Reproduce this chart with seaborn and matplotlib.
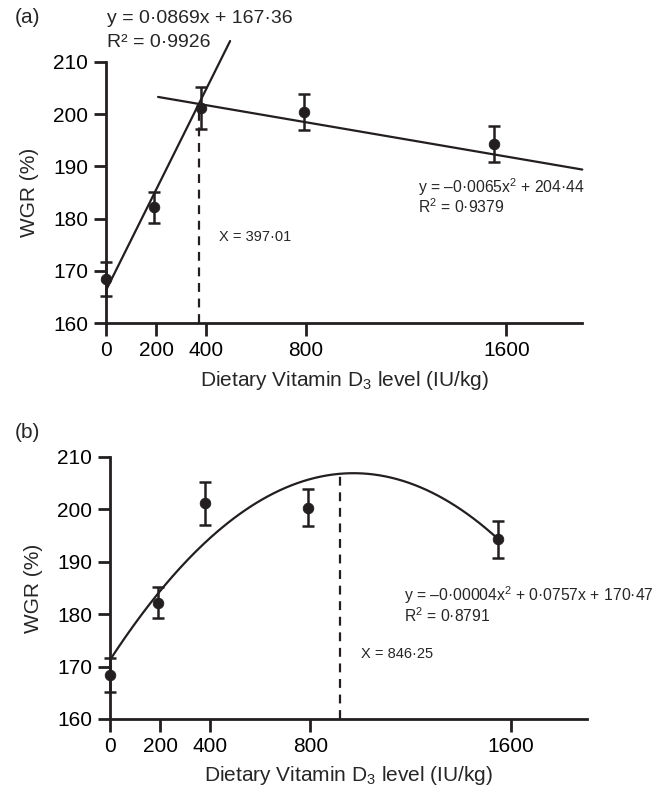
import numpy as np
import pandas as pd
import matplotlib
matplotlib.use("Agg")
import matplotlib.pyplot as plt
import seaborn as sns

# ---- data ----
levels = [0, 190, 380, 790, 1550]          # dietary vitamin D3 (IU/kg)
wgr = [168.45, 182.2, 201.15, 200.35, 194.25]  # WGR (%)
sem = [3.25, 3.0, 4.05, 3.45, 3.45]        # error bar half-length

# panel (a): broken-line fit
lin_x = [0, 496]
lin_y = [166.3, 214.0]
plat_x = [208, 1904]
plat_y = [203.3, 189.4]
break_x = 372
break_top = 201.0

# panel (b): quadratic fit (vertex form)
quad_a = -3.77e-5
quad_h = 972
quad_k = 206.9
quad_xmax = 1552
opt_x = 920

xticks = [0, 200, 400, 800, 1600]
yticks = [160, 170, 180, 190, 200, 210]

sns.set_style("ticks")
plt.rcParams['font.family'] = ['Liberation Sans', 'DejaVu Sans']
plt.rcParams['mathtext.fontset'] = 'custom'
plt.rcParams['mathtext.rm'] = 'Liberation Sans'
plt.rcParams['mathtext.it'] = 'Liberation Sans:italic'

C = '#231f20'
df = pd.DataFrame({'level': levels, 'wgr': wgr, 'sem': sem})

fig = plt.figure(figsize=(6.67, 7.94), dpi=100)
ax_a = fig.add_axes([0.159, 0.593, 0.714, 0.329])
ax_b = fig.add_axes([0.165, 0.0945, 0.715, 0.330])


def style(ax):
    ax.set_xlim(0, 1904)
    ax.set_ylim(160, 210)
    ax.set_xticks(xticks)
    ax.set_yticks(yticks)
    for s in ['top', 'right']:
        ax.spines[s].set_visible(False)
    for s in ['left', 'bottom']:
        ax.spines[s].set_linewidth(2)
        ax.spines[s].set_color(C)
    ax.tick_params(axis='both', length=9, width=2, color=C, labelsize=15,
                   labelcolor='black', pad=4)
    ax.set_xlabel('Dietary Vitamin D$_3$ level (IU/kg)', fontsize=15, labelpad=6)
    ax.set_ylabel('WGR (%)', fontsize=15, labelpad=10)


def points(ax):
    ax.errorbar(df['level'], df['wgr'], yerr=df['sem'], fmt='none', ecolor=C,
                elinewidth=1.8, capsize=4.2, capthick=1.8, zorder=3, clip_on=False)
    sns.scatterplot(data=df, x='level', y='wgr', ax=ax, color=C, s=58,
                    edgecolor=C, zorder=4, clip_on=False, legend=False)


# ---- panel (a) ----
style(ax_a)
points(ax_a)
sns.lineplot(x=lin_x, y=lin_y, ax=ax_a, color=C, lw=1.6, clip_on=False)
sns.lineplot(x=plat_x, y=plat_y, ax=ax_a, color=C, lw=1.6, clip_on=False)
ax_a.plot([break_x, break_x], [160, break_top], color=C, lw=1.6, ls=(0, (4, 3)))
ax_a.text(4, 218.3, 'y = 0·0869x + 167·36', fontsize=14, va='center', ha='left')
ax_a.text(4, 213.8, 'R² = 0·9926', fontsize=14, va='center', ha='left')
ax_a.text(1248, 186.0, 'y = –0·0065x$^{2}$ + 204·44', fontsize=11.3, va='center', ha='left')
ax_a.text(1248, 182.3, 'R$^{2}$ = 0·9379', fontsize=11.3, va='center', ha='left')
ax_a.text(452, 176.5, 'X = 397·01', fontsize=10.5, va='center', ha='left')
fig.text(0.022, 0.978, '(a)', fontsize=15, va='center', ha='left')

# ---- panel (b) ----
style(ax_b)
points(ax_b)
qx = np.linspace(0, quad_xmax, 200)
qy = quad_a * (qx - quad_h) ** 2 + quad_k
sns.lineplot(x=qx, y=qy, ax=ax_b, color=C, lw=1.6, clip_on=False)
opt_top = quad_a * (opt_x - quad_h) ** 2 + quad_k
ax_b.plot([opt_x, opt_x], [160, opt_top], color=C, lw=1.6, ls=(0, (4, 3)))
ax_b.text(1172, 183.7, 'y = –0·00004x$^{2}$ + 0·0757x + 170·47', fontsize=11.3, va='center', ha='left')
ax_b.text(1172, 179.8, 'R$^{2}$ = 0·8791', fontsize=11.3, va='center', ha='left')
ax_b.text(1000, 172.4, 'X = 846·25', fontsize=10.5, va='center', ha='left')
fig.text(0.022, 0.455, '(b)', fontsize=15, va='center', ha='left')

fig.savefig('out.png', dpi=100)
